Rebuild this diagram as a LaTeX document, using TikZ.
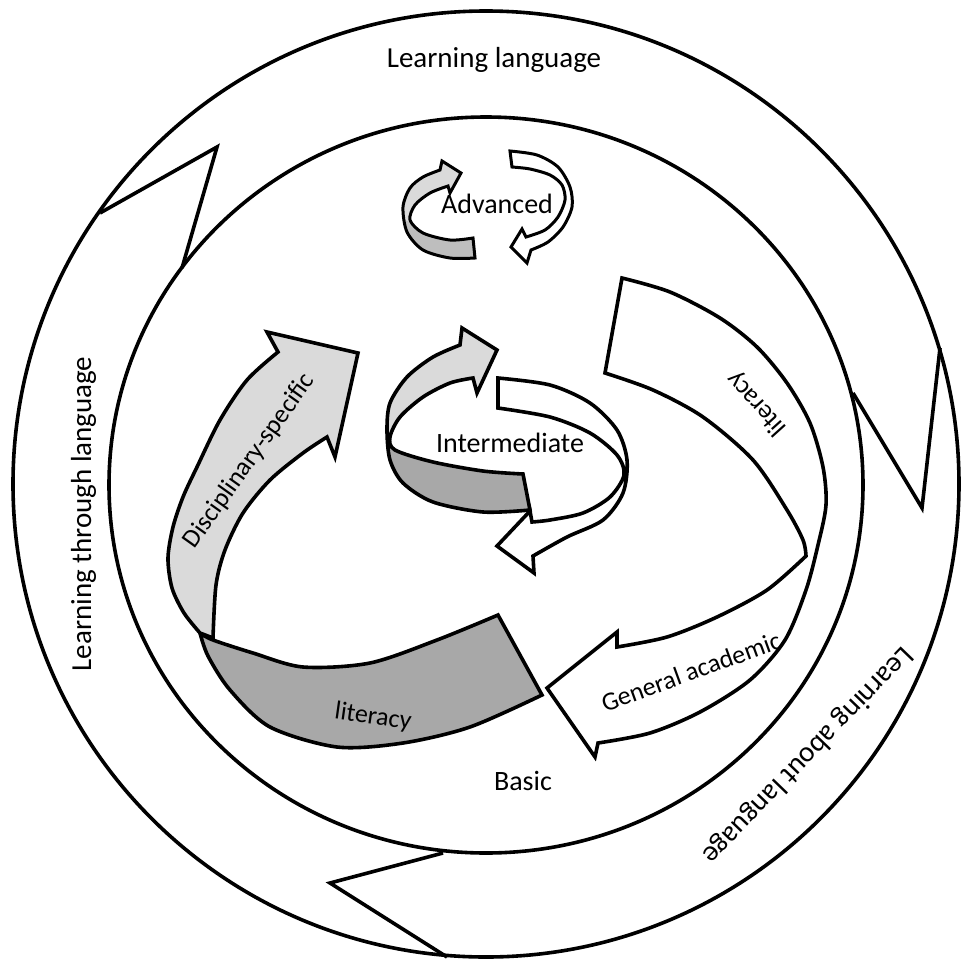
\documentclass[tikz,border=0pt]{standalone}
\usepackage{fontspec}
\setmainfont{Carlito}
\definecolor{lgray}{RGB}{218,218,218}
\definecolor{dgray}{RGB}{168,168,168}
\definecolor{mgray}{RGB}{190,190,190}
\tikzset{
  ring/.style={line width=3.6pt},
  band/.style={line width=3.6pt, line join=miter},
  thinband/.style={line width=3pt, line join=miter},
  lbl/.style={font=\fontsize{29}{30}\selectfont, anchor=base, inner sep=0pt},
  midlbl/.style={font=\fontsize{28}{30}\selectfont, anchor=base, inner sep=0pt},
  sublbl/.style={font=\fontsize{26}{28}\selectfont, anchor=base, inner sep=0pt},
}
\begin{document}
\begin{tikzpicture}[x=1pt,y=-1pt]
\fill[white] (0,0) rectangle (961,962);
\useasboundingbox (0,0) rectangle (961,962);

% ---------------- outer ring -----------------
\coordinate (O) at (486,484);
\coordinate (I) at (486,485);
\draw[ring] (O) circle[radius=473];
\draw[ring] (I) ellipse[x radius=377, y radius=368];
% chevron joints
\coordinate (v1o) at (100,213); \coordinate (v1t) at (217,147); \coordinate (v1i) at (182,268);
\coordinate (v2o) at (940,348); \coordinate (v2t) at (922,508); \coordinate (v2i) at (853,393);
\coordinate (v3o) at (447,957); \coordinate (v3t) at (330,883); \coordinate (v3i) at (443,853);
\draw[ring] (v1o) -- (v1t) -- (v1i);
\draw[ring] (v2o) -- (v2t) -- (v2i);
\draw[ring] (v3o) -- (v3t) -- (v3i);

% ---------------- dark literacy band -----------------
\filldraw[band, fill=dgray] (498,615) -- (542,695)
  -- plot[smooth] coordinates {(542,695) (470,727) (403,743) (337,747) (270,727) (230,690) (208,656) (200,633)}
  -- plot[smooth] coordinates {(200,633) (213,640) (253,653) (303,667) (370,663) (437,640) (498,615)}
  -- cycle;

% ---------------- disciplinary-specific arrow -----------------
\filldraw[band, fill=lgray] (200,633)
  -- plot[smooth] coordinates {(200,633) (184,613) (172,588) (168,558) (173,527) (183,497) (197,467) (220,420) (247,380) (278,352)}
  -- (267,332) -- (358,353) -- (335,457) -- (327,437)
  -- plot[smooth] coordinates {(327,437) (303,453) (270,480) (243,513) (225,550) (216,585) (213,638)}
  -- cycle;

% ---------------- white literacy band + general academic arrow -----------------
\filldraw[band, fill=white] (622,278)
  -- plot[smooth] coordinates {(622,278) (670,292) (720,318) (757,347) (787,383) (810,423) (823,467) (826,505) (818,545) (806,590) (785,640) (750,680) (700,712) (650,733) (598,743)}
  -- (595,757) -- (547,688) -- (617,632) -- (617,647)
  -- plot[smooth] coordinates {(617,647) (667,637) (717,617) (767,590) (806,556)}
  -- plot[smooth] coordinates {(806,556) (803,540) (787,510) (753,460) (703,417) (653,390) (605,373)}
  -- cycle;

% ---------------- intermediate arrows -----------------
\filldraw[band, fill=lgray,
  path picture={\fill[dgray] (380,446) -- (395,450) -- (433,462) -- (483,471) -- (523,474) -- (545,474) -- (545,530) -- (380,530) -- cycle;}]
  (523,474) -- (530,510)
  -- plot[smooth] coordinates {(530,510) (483,512) (433,502) (403,483) (390,460) (387,430) (390,403) (407,377) (433,357) (460,345)}
  -- (462,328) -- (497,350) -- (477,393) -- (473,378)
  -- plot[smooth] coordinates {(473,378) (450,383) (423,397) (400,417) (390,437) (395,450) (433,462) (483,471) (523,474)}
  -- cycle;
\filldraw[band, fill=white] (498,378)
  -- plot[smooth] coordinates {(498,378) (550,385) (590,403) (617,430) (627,460) (623,493) (603,520) (567,537) (533,556)}
  -- (534,573) -- (497,546) -- (530,511) -- (532,522)
  -- plot[smooth] coordinates {(532,522) (550,520) (583,513) (610,497) (624,475) (617,455) (590,433) (550,417) (498,408)}
  -- cycle;

% ---------------- advanced arrows -----------------
\filldraw[thinband, fill=lgray,
  path picture={\fill[mgray] (400,218) -- (410,222) -- (423,233) -- (450,240) -- (473,238) -- (480,238) -- (480,265) -- (400,265) -- cycle;}]
  (473,238) -- (475,258)
  -- plot[smooth] coordinates {(475,258) (450,258) (423,250) (407,232) (403,207) (410,188) (423,177) (440,170)}
  -- (442,161) -- (461,173) -- (450,193) -- (448,186)
  -- plot[smooth] coordinates {(448,186) (430,193) (415,205) (410,220) (423,233) (450,240) (473,238)}
  -- cycle;
\filldraw[thinband, fill=white] (510,151)
  -- plot[smooth] coordinates {(510,151) (537,155) (558,167) (570,187) (572,207) (563,227) (548,242) (531,250)}
  -- (527,263) -- (511,247) -- (522,229) -- (526,237)
  -- plot[smooth] coordinates {(526,237) (545,230) (558,217) (565,200) (562,185) (550,175) (530,169) (512,167)}
  -- cycle;

% ---------------- labels -----------------
\node[lbl] (tLL) at (494,67) {Learning language};
\node[lbl, rotate=90] (tLT) at (91,514) {Learning through language};
\node[lbl, rotate=-134] (tLA) at (802,750) {Learning about language};
\node[midlbl] (tAdv) at (497,213) {Advanced};
\node[midlbl] (tInt) at (510,452) {Intermediate};
\node[midlbl] (tBas) at (523,790) {Basic};
\node[sublbl, rotate=132] (tLit1) at (762,399) {literacy};
\node[sublbl, rotate=-8] (tLit2) at (372,724) {literacy};
\node[sublbl, rotate=54.5] (tDis) at (255,465) {Disciplinary-specific};
\node[sublbl, rotate=20] (tGA) at (694,680) {General academic};
\end{tikzpicture}
\end{document}
